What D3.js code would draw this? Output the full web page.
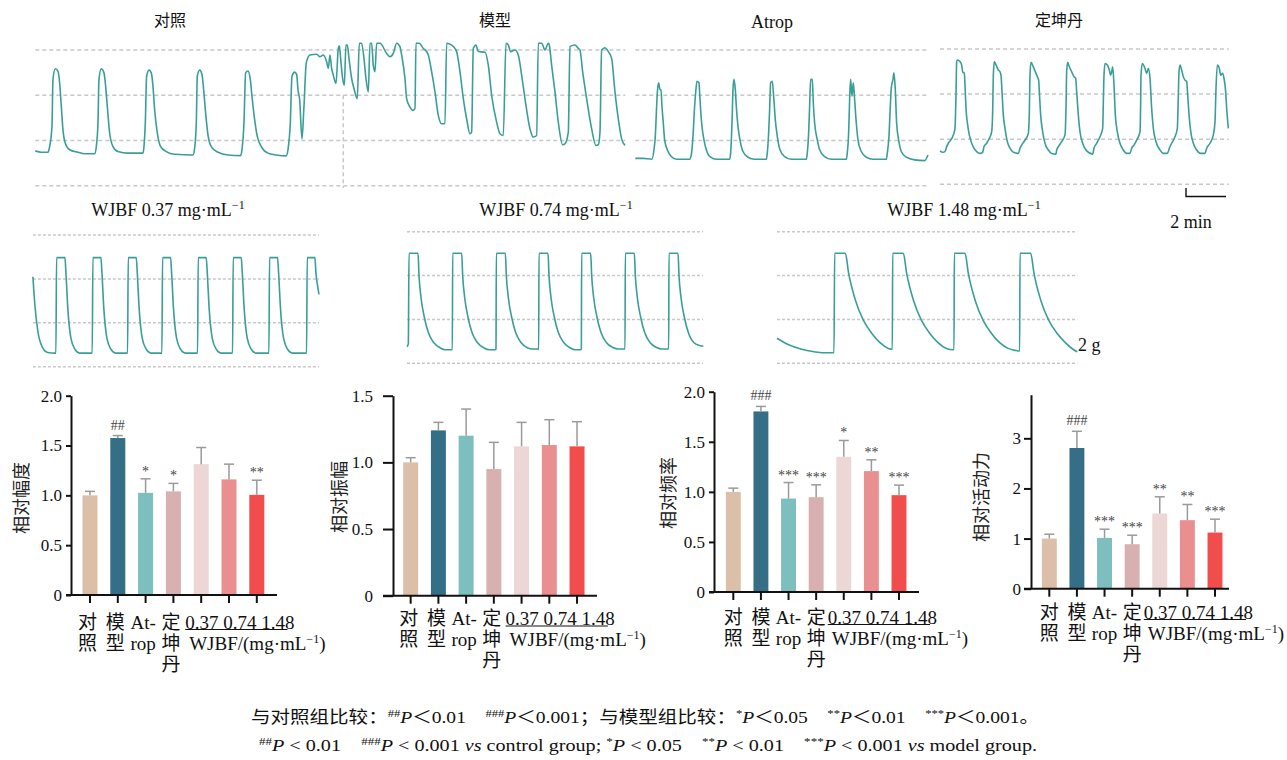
<!DOCTYPE html>
<html>
<head>
<meta charset="utf-8">
<script src="https://cdn.jsdelivr.net/npm/d3@7"></script>
<style>
body { margin: 0; background: #fff; }
svg text { white-space: pre; }
</style>
</head>
<body>
<div id="fig"></div>
<script>
// ---- bar chart data ----
var groups = ["对照", "模型", "Atrop", "定坤丹", "0.37", "0.74", "1.48"];
var groupLines = [["对", "照"], ["模", "型"], ["At-", "rop"], ["定", "坤", "丹"]];
var doseLabels = ["0.37", "0.74", "1.48"];
var barColors = ["#dbbfa8", "#346e87", "#7dbebe", "#d9b0b0", "#ecd6d6", "#ea8f8f", "#f24d4d"];

var amplitudeMean = [1.00, 1.575, 1.025, 1.04, 1.313, 1.16, 1.005];
var amplitudeErr  = [0.04, 0.025, 0.141, 0.08, 0.167, 0.153, 0.147];
var amplitudeSig  = ["", "##", "*", "*", "", "", "**"];

var swingMean = [1.00, 1.24, 1.20, 0.95, 1.12, 1.13, 1.12];
var swingErr  = [0.035, 0.06, 0.20, 0.20, 0.18, 0.19, 0.185];
var swingSig  = ["", "", "", "", "", "", ""];

var freqMean = [1.00, 1.803, 0.933, 0.947, 1.35, 1.207, 0.967];
var freqErr  = [0.037, 0.05, 0.16, 0.123, 0.163, 0.113, 0.10];
var freqSig  = ["", "###", "***", "***", "*", "**", "***"];

var activityMean = [1.00, 2.807, 1.013, 0.887, 1.50, 1.367, 1.12];
var activityErr  = [0.087, 0.333, 0.174, 0.18, 0.333, 0.313, 0.267];
var activitySig  = ["", "###", "***", "***", "**", "**", "***"];

// ---- tension traces: [time (s), tension (g)] ----
var gridTension = [0, 2, 4, 6];
var modelStart = 924;   // s, dashed marker in the control/model recording
var traceControlModel = [
 [0,1.54],[18,1.48],[38,1.48],[43,1.73],[50,2.62],[53,4.70],[60,5.17],[68,5.07],[73,4.55],[78,3.51],[83,2.47],[90,1.88],[103,1.59],[128,1.48],[148,1.41],[178,1.41],
 [183,1.73],[188,2.77],[191,4.70],[198,5.17],[206,4.99],[211,4.40],[216,3.51],[223,2.33],[233,1.73],[248,1.51],[278,1.44],[323,1.44],
 [326,1.73],[330,2.77],[334,4.84],[341,5.11],[348,4.99],[353,4.40],[358,3.36],[366,2.33],[376,1.73],[393,1.51],[418,1.39],[473,1.36],
 [478,1.66],[483,2.77],[486,4.84],[493,5.11],[500,4.92],[505,4.25],[511,3.21],[518,2.25],[528,1.73],[548,1.48],[578,1.36],[616,1.33],
 [620,1.59],[626,2.77],[631,4.99],[638,5.07],[645,4.70],[650,3.96],[658,2.92],[666,2.18],[678,1.73],[698,1.44],[723,1.36],[753,1.32],
 [758,1.59],[765,2.77],[770,4.84],[778,5.02],[784,4.92],[788,4.25],[793,3.81],[800,2.07],[806,3.51],[813,5.44],[824,5.78],
 [844,5.81],[854,5.70],[864,5.78],[874,5.48],[879,5.19],[884,5.78],[889,5.19],[894,4.89],[902,4.52],[909,6.07],[912,6.19],[916,5.63],
 [922,4.74],[927,4.44],[932,6.22],[936,6.22],[941,5.63],[949,4.74],[956,4.30],[966,3.85],[972,6.30],[979,6.30],[986,5.63],[992,4.74],
 [999,4.15],[1004,6.30],[1009,6.30],[1014,5.33],[1019,5.04],[1024,6.30],[1034,6.30],[1054,5.85],[1064,5.70],[1074,5.85],[1084,6.30],
 [1094,6.15],[1099,5.78],[1109,4.74],[1114,3.85],[1124,3.48],[1132,3.33],[1139,3.41],[1142,6.30],[1152,6.30],[1164,6.07],[1174,5.93],
 [1179,5.78],[1189,5.04],[1199,4.15],[1209,3.11],[1219,2.74],[1229,2.74],[1234,6.30],[1249,6.22],[1259,6.07],[1264,5.93],[1274,5.04],
 [1284,3.85],[1294,2.96],[1304,2.30],[1309,2.37],[1314,6.07],[1322,6.22],[1329,5.93],[1349,5.90],[1359,5.33],[1369,4.00],[1384,2.81],
 [1394,2.30],[1404,2.22],[1412,6.30],[1419,6.22],[1426,5.93],[1439,6.00],[1449,5.78],[1459,4.89],[1469,3.85],[1484,2.52],[1494,2.15],
 [1504,2.22],[1509,6.30],[1519,6.30],[1529,6.00],[1539,6.30],[1542,6.22],[1549,5.33],[1559,4.15],[1569,2.81],[1582,1.81],[1589,1.85],
 [1599,2.37],[1604,6.15],[1619,6.22],[1629,6.07],[1634,6.00],[1642,5.04],[1654,3.85],[1669,2.52],[1682,1.78],[1689,1.81],[1694,2.37],
 [1699,6.00],[1709,6.10],[1719,5.93],[1729,5.63],[1739,4.15],[1749,2.96],[1759,2.07],[1769,1.78]
];
var traceAtrop = [
 [0,1.21],[23,1.21],[50,1.17],[56,1.59],[60,2.18],[64,3.51],[66,4.10],[70,4.55],[74,4.25],[77,4.25],[80,3.51],[84,2.77],[88,2.03],[96,1.59],[108,1.29],[123,1.17],[163,1.17],
 [168,1.36],[173,2.18],[178,3.51],[181,4.10],[185,4.62],[191,4.55],[193,4.10],[196,3.36],[200,2.62],[206,2.03],[213,1.59],[226,1.26],[243,1.17],[283,1.17],
 [286,1.44],[289,2.33],[291,3.21],[293,4.25],[296,4.70],[300,4.25],[303,3.51],[308,2.62],[314,2.03],[323,1.51],[338,1.26],[358,1.17],[393,1.17],
 [396,1.44],[400,2.33],[403,3.36],[406,4.55],[411,4.62],[415,3.96],[420,2.92],[426,2.18],[434,1.59],[448,1.29],[468,1.17],[513,1.17],
 [516,1.44],[520,2.33],[523,3.51],[526,4.70],[531,4.70],[534,3.66],[538,2.77],[546,2.03],[553,1.59],[568,1.29],[588,1.17],[633,1.17],
 [636,1.44],[640,2.33],[643,3.81],[646,4.70],[650,3.96],[654,4.55],[658,3.81],[663,2.77],[668,2.03],[678,1.51],[693,1.26],[713,1.17],[753,1.17],
 [756,1.44],[761,2.18],[765,3.51],[768,4.33],[773,4.70],[776,4.99],[780,4.25],[784,2.77],[790,2.03],[798,1.51],[813,1.26],[838,1.14],[868,1.11],[878,1.36]
];
var traceDingkundan = [
 [0,1.48],[8,1.42],[15,1.45],[20,1.67],[25,1.82],[32,1.96],[40,2.19],[45,2.48],[48,3.96],[50,5.44],[52,5.51],[60,5.44],[65,5.29],[68,4.99],
 [73,4.92],[75,4.40],[78,3.37],[83,2.63],[88,2.19],[95,1.82],[102,1.60],[110,1.45],[120,1.37],[128,1.42],[132,1.67],[140,1.82],[148,2.04],
 [155,2.33],[158,3.22],[160,4.84],[163,5.44],[168,5.29],[175,5.07],[180,4.99],[183,4.84],[186,4.11],[190,3.07],[195,2.48],[202,1.89],
 [210,1.60],[220,1.42],[235,1.37],[240,1.60],[245,1.74],[255,1.96],[265,2.26],[268,3.22],[270,4.84],[273,5.41],[280,5.21],[288,4.92],
 [292,4.77],[296,4.62],[298,4.11],[302,3.07],[308,2.33],[315,1.82],[325,1.52],[335,1.37],[348,1.34],[350,1.52],[355,1.67],[365,1.89],
 [375,2.19],[378,3.37],[380,4.99],[383,5.41],[388,5.21],[395,4.99],[402,4.77],[407,4.70],[410,4.11],[415,3.07],[420,2.33],[428,1.82],
 [440,1.48],[458,1.34],[462,1.60],[470,1.82],[480,2.11],[488,2.48],[490,3.66],[492,4.84],[495,5.36],[502,5.29],[508,5.07],[512,4.84],
 [515,4.99],[518,5.21],[522,4.40],[526,3.07],[532,2.33],[540,1.82],[550,1.52],[560,1.37],[570,1.37],[575,1.60],[582,1.74],[590,1.96],
 [600,2.33],[602,3.66],[603,4.84],[607,5.36],[615,5.14],[620,4.92],[625,5.14],[630,4.70],[635,3.37],[640,2.48],[648,1.89],[660,1.52],
 [670,1.37],[682,1.37],[688,1.60],[695,1.82],[705,2.11],[712,2.48],[715,3.96],[717,4.99],[720,5.29],[725,5.07],[730,4.77],[735,4.62],
 [740,4.55],[743,3.96],[748,2.92],[753,2.26],[760,1.82],[770,1.52],[782,1.37],[795,1.37],[800,1.60],[810,1.82],[820,2.19],[825,2.78],
 [828,4.25],[832,5.29],[838,5.14],[842,4.84],[848,4.92],[852,4.70],[857,4.11],[860,3.37],[865,2.48]
];
var traceWJBF037 = [
 [0,4.10],[6,2.80],[15,1.60],[28,0.90],[44,0.65],[67,0.62],
 [69,0.62],[71,4.97],[96,4.97],[99,4.30],[105,2.60],[114,1.30],[126,0.80],[140,0.62],[176,0.62],
 [178,0.62],[180,4.97],[204,4.97],[207,4.30],[213,2.60],[222,1.30],[234,0.80],[248,0.62],[282,0.62],
 [284,0.62],[286,4.97],[310,4.97],[313,4.30],[319,2.60],[328,1.30],[340,0.80],[354,0.62],[385,0.62],
 [387,0.62],[389,4.97],[413,4.97],[416,4.30],[422,2.60],[431,1.30],[443,0.80],[457,0.62],[492,0.62],
 [494,0.62],[496,4.97],[520,4.97],[523,4.30],[529,2.60],[538,1.30],[550,0.80],[564,0.62],[597,0.62],
 [599,0.62],[601,4.97],[625,4.97],[628,4.30],[634,2.60],[643,1.30],[655,0.80],[669,0.62],[706,0.62],
 [708,0.62],[710,4.97],[734,4.97],[737,4.30],[743,2.60],[752,1.30],[764,0.80],[778,0.62],[819,0.62],
 [821,0.62],[823,4.97],[846,4.97],[849,4.30],[855,3.60],[858,3.30]
];
var traceWJBF074 = [
 [0,0.75],[4,0.90],[6,5.02],[33,5.02],[36,4.00],[42,3.00],[52,2.10],[64,1.40],[80,0.95],[100,0.70],[115,0.62],[134,0.62],
 [136,0.62],[137,5.02],[164,5.02],[167,4.00],[173,3.00],[183,2.10],[195,1.40],[211,0.95],[231,0.70],[246,0.62],[265,0.62],
 [267,0.65],[268,5.02],[295,5.02],[298,4.00],[304,3.00],[314,2.10],[326,1.40],[342,0.95],[362,0.70],[377,0.65],[393,0.65],
 [395,0.62],[396,5.02],[423,5.02],[426,4.00],[432,3.00],[442,2.10],[454,1.40],[470,0.95],[490,0.70],[505,0.62],[521,0.62],
 [523,0.65],[524,5.02],[551,5.02],[554,4.00],[560,3.00],[570,2.10],[582,1.40],[598,0.95],[618,0.72],[633,0.65],[652,0.65],
 [654,0.65],[655,5.02],[682,5.02],[685,4.00],[691,3.00],[701,2.10],[713,1.40],[729,0.95],[749,0.72],[764,0.65],[783,0.65],
 [785,0.65],[786,5.02],[813,5.02],[816,4.00],[822,3.00],[832,2.10],[844,1.40],[860,0.95],[880,0.80],[889,0.78]
];
var traceWJBF148 = [
 [0,1.14],[37,0.83],[74,0.64],[111,0.53],[136,0.48],[171,0.48],[173,5.02],[205,5.02],[215,4.10],[235,2.89],[259,1.97],[284,1.37],[309,0.94],[334,0.68],[344,0.64],
 [346,0.64],[347,5.02],[379,5.02],[389,4.10],[409,2.89],[433,1.97],[458,1.37],[483,0.94],[508,0.68],[529,0.62],
 [531,0.62],[532,5.02],[564,5.02],[574,4.10],[594,2.89],[618,1.97],[643,1.37],[668,0.94],[693,0.68],[718,0.58],[726,0.56],
 [728,0.56],[729,5.02],[761,5.02],[771,4.10],[791,2.89],[815,1.97],[840,1.37],[865,0.94],[890,0.62],[901,0.53]
];

var serif = "'Liberation Serif', 'Times New Roman', serif";
var cjk = "'Noto Sans CJK SC', sans-serif";
var mixed = "'Liberation Serif', 'Noto Sans CJK SC', serif";

var svg = d3.select("#fig").append("svg")
    .attr("width", 1287)
    .attr("height", 760);

// ---- traces ----
var pxPerSec = 1 / 3;
var panels = [
    {data: traceControlModel, x0: 35.3, yBottom: 185.7, yTop: 50, tEnd: 1770, dash: "4 3"},
    {data: traceAtrop, x0: 635.3, yBottom: 185.7, yTop: 50, tEnd: 880, dash: "4 3"},
    {data: traceDingkundan, x0: 940, yBottom: 184.3, yTop: 49, tEnd: 866, dash: "4 3"},
    {data: traceWJBF037, x0: 32.9, yBottom: 366.7, yTop: 235, tEnd: 858, dash: "3 2"},
    {data: traceWJBF074, x0: 407, yBottom: 363.3, yTop: 231.7, tEnd: 888, dash: "3 2"},
    {data: traceWJBF148, x0: 777, yBottom: 363.3, yTop: 231.7, tEnd: 901, dash: "3 2"}
];

panels.forEach(function(p, i) {
    var x = d3.scaleLinear().domain([0, p.tEnd]).range([p.x0, p.x0 + p.tEnd * pxPerSec]);
    var y = d3.scaleLinear().domain([0, 6]).range([p.yBottom, p.yTop]);
    var g = svg.append("g");

    g.selectAll("line")
        .data(gridTension)
        .enter()
        .append("line")
        .attr("x1", x(0))
        .attr("x2", x(p.tEnd))
        .attr("y1", d => y(d))
        .attr("y2", d => y(d))
        .attr("stroke", "#c8c8c8")
        .attr("stroke-width", 1.5)
        .attr("stroke-dasharray", p.dash);

    if (i === 0) {
        g.append("line")
            .attr("x1", x(modelStart)).attr("x2", x(modelStart))
            .attr("y1", y(4)).attr("y2", y(-0.1))
            .attr("stroke", "#c8c8c8")
            .attr("stroke-width", 1.5)
            .attr("stroke-dasharray", "4 3");
    }

    var line = d3.line()
        .x(d => x(d[0]))
        .y(d => y(d[1]))
        .curve(d3.curveMonotoneX);

    g.append("path")
        .datum(p.data)
        .attr("d", line)
        .attr("fill", "none")
        .attr("stroke", "#3a9e98")
        .attr("stroke-width", 1.6);
});

// trace titles
[["对照", 170, 26, cjk, 16], ["模型", 495, 26, cjk, 16], ["Atrop", 772, 28, serif, 18], ["定坤丹", 1059, 26, cjk, 16]]
    .forEach(function(t) {
        svg.append("text")
            .attr("x", t[1]).attr("y", t[2])
            .attr("text-anchor", "middle")
            .style("font-family", t[3])
            .style("font-size", t[4] + "px")
            .attr("fill", "#111")
            .text(t[0]);
    });

[["0.37", 168], ["0.74", 556], ["1.48", 964]].forEach(function(t) {
    var txt = svg.append("text")
        .attr("x", t[1]).attr("y", 216)
        .attr("text-anchor", "middle")
        .style("font-family", serif)
        .style("font-size", "18px")
        .attr("fill", "#111");
    txt.append("tspan").text("WJBF " + t[0] + " mg·mL");
    txt.append("tspan").text("−1").attr("font-size", "12px").attr("dy", -7);
});

// scale bar (2 min)
var sbx = d3.scaleLinear().domain([0, 120]).range([1186, 1186 + 120 * pxPerSec]);
svg.append("path")
    .attr("d", "M" + sbx(0) + ",188V196.5H" + sbx(120))
    .attr("fill", "none")
    .attr("stroke", "#111")
    .attr("stroke-width", 1.4);
svg.append("text")
    .attr("x", 1191).attr("y", 228)
    .attr("text-anchor", "middle")
    .style("font-family", serif).style("font-size", "18px")
    .attr("fill", "#111")
    .text("2 min");
svg.append("text")
    .attr("x", 1078).attr("y", 351)
    .style("font-family", serif).style("font-size", "18px")
    .attr("fill", "#111")
    .text("2 g");

// ---- bar charts ----
var charts = [
    {mean: amplitudeMean, err: amplitudeErr, sig: amplitudeSig, label: "相对幅度",
     axisX: 71, x0: 76.1, x1: 270.7, xEnd: 277, yBase: 595, yTopPx: 395.7, yMax: 2,
     ticks: [0, 0.5, 1, 1.5, 2], fmt: ".1f", tick: 5, pad: 4, lx: 20, ly: 498, labelY: 628.5, labelDx: -2.5},
    {mean: swingMean, err: swingErr, sig: swingSig, label: "相对振幅",
     axisX: 393, x0: 396.8, x1: 590.9, xEnd: 597, yBase: 595.7, yTopPx: 395.7, yMax: 1.5,
     ticks: [0, 0.5, 1, 1.5], fmt: ".1f", tick: 10, pad: 10, lx: 338, ly: 497, labelY: 625, labelDx: -2},
    {mean: freqMean, err: freqErr, sig: freqSig, label: "相对频率",
     axisX: 714, x0: 719.5, x1: 912.8, xEnd: 919, yBase: 592, yTopPx: 391.7, yMax: 2,
     ticks: [0, 0.5, 1, 1.5, 2], fmt: ".1f", tick: 5, pad: 4, lx: 667, ly: 493, labelY: 623.5, labelDx: 0},
    {mean: activityMean, err: activityErr, sig: activitySig, label: "相对活动力",
     axisX: 1031, x0: 1035.5, x1: 1228.8, xEnd: 1229, yBase: 588.7, yTopPx: 394.7, yMax: 3.87,
     ticks: [0, 1, 2, 3], fmt: "d", tick: 7, pad: 3, lx: 980, ly: 497, labelY: 618.5, labelDx: 0}
];

charts.forEach(function(c) {
    var rows = groups.map((g, i) => ({group: g, mean: c.mean[i], err: c.err[i], sig: c.sig[i], color: barColors[i]}));

    var x = d3.scaleBand()
        .domain(groups)
        .range([c.x0, c.x1])
        .paddingInner(0.46)
        .paddingOuter(0.23);

    var y = d3.scaleLinear()
        .domain([0, c.yMax])
        .range([c.yBase, c.yTopPx]);

    var g = svg.append("g");

    // bars
    g.selectAll("rect")
        .data(rows)
        .enter()
        .append("rect")
        .attr("x", d => x(d.group))
        .attr("y", d => y(d.mean))
        .attr("width", x.bandwidth())
        .attr("height", d => y(0) - y(d.mean))
        .attr("fill", d => d.color);

    // error bars
    var cx = d => x(d.group) + x.bandwidth() / 2;
    g.selectAll("line.err")
        .data(rows)
        .enter()
        .append("line")
        .attr("class", "err")
        .attr("x1", cx).attr("x2", cx)
        .attr("y1", d => y(d.mean)).attr("y2", d => y(d.mean + d.err))
        .attr("stroke", "#9a9a9a").attr("stroke-width", 1.5);
    g.selectAll("line.cap")
        .data(rows)
        .enter()
        .append("line")
        .attr("class", "cap")
        .attr("x1", d => cx(d) - 5).attr("x2", d => cx(d) + 5)
        .attr("y1", d => y(d.mean + d.err)).attr("y2", d => y(d.mean + d.err))
        .attr("stroke", "#9a9a9a").attr("stroke-width", 1.5);

    // significance marks
    g.selectAll("text.sig")
        .data(rows.filter(d => d.sig))
        .enter()
        .append("text")
        .attr("class", "sig")
        .attr("x", cx)
        .attr("y", d => y(d.mean + d.err) - (d.sig[0] === "#" ? 6 : 3))
        .attr("text-anchor", "middle")
        .style("font-family", serif)
        .style("font-size", "14px")
        .attr("fill", "#444")
        .text(d => d.sig);

    // y axis
    var yAxis = g.append("g")
        .attr("transform", "translate(" + c.axisX + ",0)")
        .call(d3.axisLeft(y)
            .tickValues(c.ticks)
            .tickSize(c.tick)
            .tickSizeOuter(0)
            .tickPadding(c.pad)
            .tickFormat(d => d === 0 ? "0" : d3.format(c.fmt)(d)));
    yAxis.select(".domain").attr("stroke", "#111").attr("stroke-width", 2);
    yAxis.selectAll(".tick line").attr("stroke", "#111").attr("stroke-width", 2);
    yAxis.selectAll(".tick text")
        .style("font-family", serif)
        .style("font-size", "17px")
        .attr("fill", "#111");

    // x axis
    var xAxis = g.append("g")
        .attr("transform", "translate(0," + c.yBase + ")")
        .call(d3.axisBottom(x).tickSize(8).tickSizeOuter(0).tickFormat(""));
    xAxis.select(".domain")
        .attr("d", "M" + (c.axisX - c.tick) + ",0H" + c.xEnd)
        .attr("stroke", "#111").attr("stroke-width", 2);
    xAxis.selectAll(".tick line").attr("stroke", "#111").attr("stroke-width", 2);

    // y label
    g.append("text")
        .attr("transform", "translate(" + c.lx + "," + c.ly + ") rotate(-90)")
        .attr("text-anchor", "middle")
        .attr("dominant-baseline", "central")
        .style("font-family", cjk)
        .style("font-size", "18px")
        .attr("fill", "#222")
        .text(c.label);

    // x category labels
    groupLines.forEach(function(lines, i) {
        lines.forEach(function(s, k) {
            g.append("text")
                .attr("x", x(groups[i]) + x.bandwidth() / 2 + c.labelDx)
                .attr("y", c.labelY + k * 21)
                .attr("text-anchor", "middle")
                .style("font-family", mixed)
                .style("font-size", "19px")
                .attr("fill", "#111")
                .text(s);
        });
    });

    var doseX = x(groups[4]) + x.bandwidth() / 2 - 16;
    var dose = g.append("text")
        .attr("x", doseX)
        .attr("y", c.labelY)
        .style("font-family", serif)
        .style("font-size", "19px")
        .attr("fill", "#111")
        .text(doseLabels.join(" "));
    var dw = dose.node().getComputedTextLength();
    g.append("line")
        .attr("x1", doseX).attr("x2", doseX + dw - 7)
        .attr("y1", c.labelY + 1).attr("y2", c.labelY + 1)
        .attr("stroke", "#111").attr("stroke-width", 1.2);

    var unit = g.append("text")
        .attr("x", doseX + 4)
        .attr("y", c.labelY + 21)
        .style("font-family", serif)
        .style("font-size", "19px")
        .attr("fill", "#111");
    unit.append("tspan").text("WJBF/(mg·mL");
    unit.append("tspan").text("−1").attr("font-size", "12px").attr("dy", -7);
    unit.append("tspan").text(")").attr("dy", 7);
});

// ---- footnote ----
function rich(txt, parts) {
    var up = false;
    parts.forEach(function(p) {
        var o = typeof p === "string" ? {t: p} : p;
        var ts = txt.append("tspan").text(o.t);
        if (o.sup) {
            ts.attr("font-size", "11px");
            if (!up) ts.attr("dy", -6);
            up = true;
        } else {
            if (up) ts.attr("dy", 6);
            up = false;
        }
        if (o.it) ts.attr("font-style", "italic");
    });
}

var P = {t: "P", it: true};
var foot1 = svg.append("text")
    .attr("x", 251).attr("y", 723)
    .attr("textLength", 788)
    .attr("lengthAdjust", "spacingAndGlyphs")
    .style("font-family", mixed)
    .style("font-size", "17px")
    .attr("fill", "#111");
rich(foot1, ["与对照组比较：", {t: "##", sup: true}, P, "＜0.01    ", {t: "###", sup: true}, P,
    "＜0.001；与模型组比较：", {t: "*", sup: true}, P, "＜0.05    ", {t: "**", sup: true}, P,
    "＜0.01    ", {t: "***", sup: true}, P, "＜0.001。"]);

var foot2 = svg.append("text")
    .attr("x", 259).attr("y", 751)
    .attr("textLength", 778)
    .attr("lengthAdjust", "spacingAndGlyphs")
    .style("font-family", serif)
    .style("font-size", "17px")
    .attr("fill", "#111");
rich(foot2, [{t: "##", sup: true}, P, " < 0.01    ", {t: "###", sup: true}, P, " < 0.001 ",
    {t: "vs", it: true}, " control group; ", {t: "*", sup: true}, P, " < 0.05    ",
    {t: "**", sup: true}, P, " < 0.01    ", {t: "***", sup: true}, P, " < 0.001 ",
    {t: "vs", it: true}, " model group."]);
</script>
</body>
</html>
